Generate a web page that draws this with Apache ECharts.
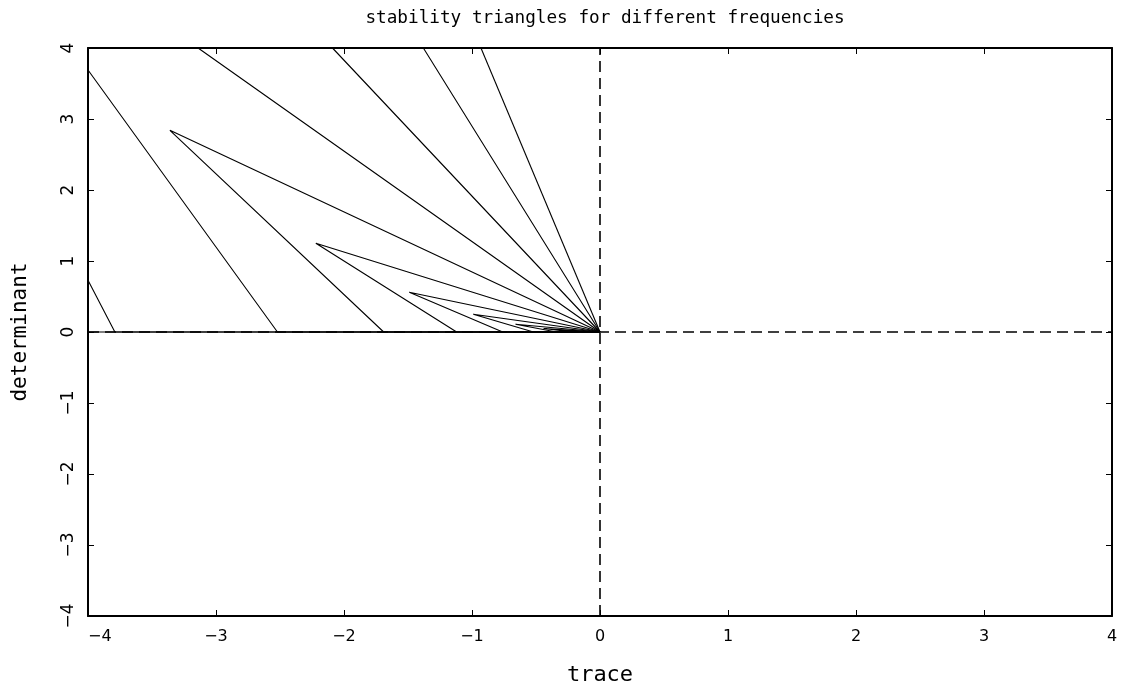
<!DOCTYPE html>
<html>
<head>
<meta charset="utf-8">
<script src="https://cdn.jsdelivr.net/npm/echarts@6/dist/echarts.min.js"></script>
<style>
html,body{margin:0;padding:0;background:#fff;}
#chart{width:1122px;height:691px;}
</style>
</head>
<body>
<div id="chart"></div>
<script>
// ---- data (trace, determinant) ----
var xTickValues = [-4, -3, -2, -1, 0, 1, 2, 3, 4];
var xTickLabels = ['\u22124', '\u22123', '\u22122', '\u22121', '0', '1', '2', '3', '4'];
var yTickValues = [-4, -3, -2, -1, 0, 1, 2, 3, 4];
var yTickLabels = ['\u22124', '\u22123', '\u22122', '\u22121', '0', '1', '2', '3', '4'];

// stability triangles (visible parts), largest frequency first
var tri1 = [[-0.93, 4], [0, 0]];
var tri2 = [[-1.38, 4], [0, 0], [-4, 0]];
var tri3 = [[-2.09, 4], [0, 0], [-3.79, 0], [-4, 0.73]];
var tri4 = [[-3.14, 4], [0, 0], [-2.52, 0], [-4, 3.69]];
var tri5 = [[0, 0], [-3.36, 2.84], [-1.69, 0], [0, 0]];
var tri6 = [[0, 0], [-2.22, 1.25], [-1.12, 0], [0, 0]];
var tri7 = [[0, 0], [-1.49, 0.56], [-0.76, 0], [0, 0]];
var tri8 = [[0, 0], [-0.99, 0.25], [-0.52, 0], [0, 0]];
var tri9 = [[0, 0], [-0.66, 0.11], [-0.34, 0], [0, 0]];
var tri10 = [[0, 0], [-0.44, 0.05], [-0.22, 0], [0, 0]];
var tri11 = [[0, 0], [-0.29, 0.02], [-0.15, 0], [0, 0]];

// dashed reference lines
var zeroH = [[-4, 0], [4, 0]];
var zeroV = [[0, -4], [0, 4]];

var titleText = 'stability triangles for different frequencies';
var xName = 'trace';
var yName = 'determinant';

var chart = echarts.init(document.getElementById('chart'), null, {renderer: 'canvas'});
var FONT = 'DejaVu Sans';
var MONO = 'DejaVu Sans Mono';

function triSeries(d) {
  return {type: 'line', data: d, showSymbol: false, symbol: 'none', clip: true,
    lineStyle: {color: '#000', width: 1.1}, silent: true, z: 3};
}
function xFmt(v) { var i = xTickValues.indexOf(v); return i < 0 ? '' : xTickLabels[i]; }
function yFmt(v) { var i = yTickValues.indexOf(v); return i < 0 ? '' : yTickLabels[i]; }

var axisLine = {show: true, onZero: false, lineStyle: {color: '#000', width: 2}};
var axisTick = {show: true, inside: true, length: 6, lineStyle: {color: '#000', width: 1}};

var option = {
  animation: false,
  backgroundColor: '#fff',
  title: {
    text: titleText, left: 600, top: 4, textAlign: 'center',
    textStyle: {fontFamily: MONO, fontSize: 17.7, fontWeight: 'normal', color: '#000'}
  },
  grid: {left: 88, right: 10, top: 48, bottom: 73},
  xAxis: [
    {type: 'value', min: -4, max: 4, interval: 1, position: 'bottom',
     name: xName, nameLocation: 'middle', nameGap: 48,
     nameTextStyle: {fontFamily: MONO, fontSize: 22, color: '#000'},
     axisLine: axisLine, axisTick: axisTick, splitLine: {show: false},
     axisLabel: {formatter: xFmt, fontFamily: FONT, fontSize: 16, color: '#000', margin: 13,
                 alignMinLabel: 'left'}},
    {type: 'value', min: -4, max: 4, interval: 1, position: 'top',
     axisLine: axisLine, axisTick: axisTick, splitLine: {show: false}, axisLabel: {show: false}}
  ],
  yAxis: [
    {type: 'value', min: -4, max: 4, interval: 1, position: 'left',
     name: yName, nameLocation: 'middle', nameGap: 57,
     nameTextStyle: {fontFamily: MONO, fontSize: 21, color: '#000'},
     axisLine: axisLine, axisTick: axisTick, splitLine: {show: false},
     axisLabel: {formatter: yFmt, rotate: 90, fontFamily: FONT, fontSize: 17, color: '#000', margin: 11}},
    {type: 'value', min: -4, max: 4, interval: 1, position: 'right',
     axisLine: axisLine, axisTick: axisTick, splitLine: {show: false}, axisLabel: {show: false}}
  ],
  series: [
    {type: 'line', data: zeroH, showSymbol: false, symbol: 'none', silent: true, z: 2,
     lineStyle: {color: '#000', width: 1.6, type: [11, 6]}},
    {type: 'line', data: zeroV, showSymbol: false, symbol: 'none', silent: true, z: 2,
     lineStyle: {color: '#000', width: 1.6, type: [11, 6]}},
    triSeries(tri1), triSeries(tri2), triSeries(tri3), triSeries(tri4),
    triSeries(tri5), triSeries(tri6), triSeries(tri7), triSeries(tri8),
    triSeries(tri9), triSeries(tri10), triSeries(tri11)
  ]
};
chart.setOption(option);
</script>
</body>
</html>
